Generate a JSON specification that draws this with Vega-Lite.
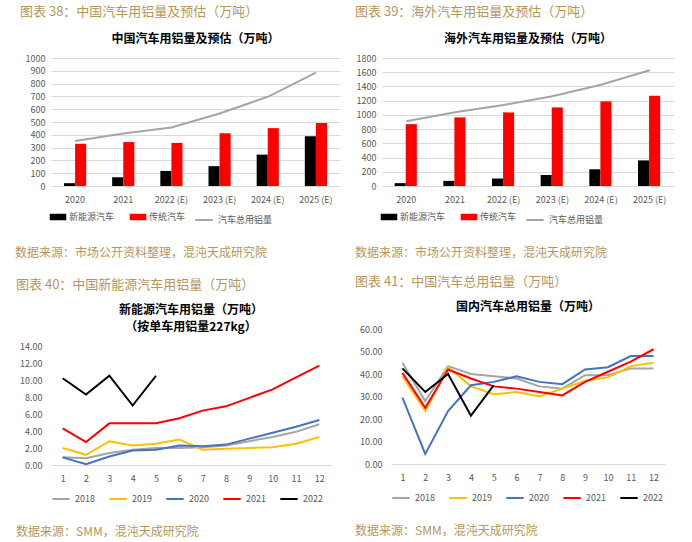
{
  "$schema": "https://vega.github.io/schema/vega-lite/v6.json",
  "padding": {"left": 15, "top": 6, "right": 5, "bottom": 2},
  "background": "white",
  "columns": 2,
  "align": {"row": "each", "column": "none"},
  "spacing": {"row": 17, "column": 15},
  "resolve": {"scale": {"color": "independent", "fill": "independent", "stroke": "independent"}, "legend": {"color": "independent", "fill": "independent", "stroke": "independent"}},
  "config": {
    "font": "Noto Sans CJK SC",
    "view": {"stroke": null},
    "axis": {"labelColor": "#595959", "labelFontSize": 9, "titleColor": "#595959"},
    "axisY": {"domain": false, "ticks": false, "gridColor": "#d9d9d9", "title": null, "labelPadding": 6, "labelOverlap": false},
    "axisX": {"domainColor": "#d9d9d9", "ticks": false, "grid": false, "title": null, "labelAngle": 0, "labelPadding": 9},
    "legend": {"orient": "bottom", "direction": "horizontal", "title": null, "labelColor": "#595959", "labelFontSize": 9, "offset": 6, "columnPadding": 14},
    "title": {"font": "Noto Sans CJK SC"},
    "concat": {"spacing": 18}
  },
  "datasets": {
    "cn": [
      {"year": "2020", "type": "新能源汽车", "value": 22},
      {"year": "2021", "type": "新能源汽车", "value": 68},
      {"year": "2022 (E)", "type": "新能源汽车", "value": 118},
      {"year": "2023 (E)", "type": "新能源汽车", "value": 155},
      {"year": "2024 (E)", "type": "新能源汽车", "value": 245},
      {"year": "2025 (E)", "type": "新能源汽车", "value": 388},
      {"year": "2020", "type": "传统汽车", "value": 330},
      {"year": "2021", "type": "传统汽车", "value": 343},
      {"year": "2022 (E)", "type": "传统汽车", "value": 337},
      {"year": "2023 (E)", "type": "传统汽车", "value": 412},
      {"year": "2024 (E)", "type": "传统汽车", "value": 452},
      {"year": "2025 (E)", "type": "传统汽车", "value": 492},
      {"year": "2020", "type": "汽车总用铝量", "value": 352},
      {"year": "2021", "type": "汽车总用铝量", "value": 411},
      {"year": "2022 (E)", "type": "汽车总用铝量", "value": 457},
      {"year": "2023 (E)", "type": "汽车总用铝量", "value": 567},
      {"year": "2024 (E)", "type": "汽车总用铝量", "value": 697},
      {"year": "2025 (E)", "type": "汽车总用铝量", "value": 886}
    ],
    "os": [
      {"year": "2020", "type": "新能源汽车", "value": 40},
      {"year": "2021", "type": "新能源汽车", "value": 72},
      {"year": "2022 (E)", "type": "新能源汽车", "value": 105},
      {"year": "2023 (E)", "type": "新能源汽车", "value": 155},
      {"year": "2024 (E)", "type": "新能源汽车", "value": 235},
      {"year": "2025 (E)", "type": "新能源汽车", "value": 360},
      {"year": "2020", "type": "传统汽车", "value": 870},
      {"year": "2021", "type": "传统汽车", "value": 965},
      {"year": "2022 (E)", "type": "传统汽车", "value": 1035},
      {"year": "2023 (E)", "type": "传统汽车", "value": 1105},
      {"year": "2024 (E)", "type": "传统汽车", "value": 1190},
      {"year": "2025 (E)", "type": "传统汽车", "value": 1270},
      {"year": "2020", "type": "汽车总用铝量", "value": 912},
      {"year": "2021", "type": "汽车总用铝量", "value": 1037},
      {"year": "2022 (E)", "type": "汽车总用铝量", "value": 1140},
      {"year": "2023 (E)", "type": "汽车总用铝量", "value": 1262},
      {"year": "2024 (E)", "type": "汽车总用铝量", "value": 1425},
      {"year": "2025 (E)", "type": "汽车总用铝量", "value": 1628}
    ],
    "nev": [
      {"year": "2018", "month": 1, "value": 0.9}, {"year": "2018", "month": 2, "value": 0.8}, {"year": "2018", "month": 3, "value": 1.4}, {"year": "2018", "month": 4, "value": 1.8}, {"year": "2018", "month": 5, "value": 2.0}, {"year": "2018", "month": 6, "value": 2.0}, {"year": "2018", "month": 7, "value": 2.1}, {"year": "2018", "month": 8, "value": 2.3}, {"year": "2018", "month": 9, "value": 2.8}, {"year": "2018", "month": 10, "value": 3.3}, {"year": "2018", "month": 11, "value": 3.9}, {"year": "2018", "month": 12, "value": 4.8},
      {"year": "2019", "month": 1, "value": 2.0}, {"year": "2019", "month": 2, "value": 1.2}, {"year": "2019", "month": 3, "value": 2.8}, {"year": "2019", "month": 4, "value": 2.3}, {"year": "2019", "month": 5, "value": 2.5}, {"year": "2019", "month": 6, "value": 3.0}, {"year": "2019", "month": 7, "value": 1.8}, {"year": "2019", "month": 8, "value": 1.9}, {"year": "2019", "month": 9, "value": 2.0}, {"year": "2019", "month": 10, "value": 2.1}, {"year": "2019", "month": 11, "value": 2.5}, {"year": "2019", "month": 12, "value": 3.3},
      {"year": "2020", "month": 1, "value": 0.9}, {"year": "2020", "month": 2, "value": 0.1}, {"year": "2020", "month": 3, "value": 1.0}, {"year": "2020", "month": 4, "value": 1.7}, {"year": "2020", "month": 5, "value": 1.8}, {"year": "2020", "month": 6, "value": 2.3}, {"year": "2020", "month": 7, "value": 2.2}, {"year": "2020", "month": 8, "value": 2.4}, {"year": "2020", "month": 9, "value": 3.1}, {"year": "2020", "month": 10, "value": 3.8}, {"year": "2020", "month": 11, "value": 4.5}, {"year": "2020", "month": 12, "value": 5.3},
      {"year": "2021", "month": 1, "value": 4.3}, {"year": "2021", "month": 2, "value": 2.7}, {"year": "2021", "month": 3, "value": 4.9}, {"year": "2021", "month": 4, "value": 4.9}, {"year": "2021", "month": 5, "value": 4.9}, {"year": "2021", "month": 6, "value": 5.5}, {"year": "2021", "month": 7, "value": 6.4}, {"year": "2021", "month": 8, "value": 6.9}, {"year": "2021", "month": 9, "value": 7.9}, {"year": "2021", "month": 10, "value": 8.9}, {"year": "2021", "month": 11, "value": 10.3}, {"year": "2021", "month": 12, "value": 11.7},
      {"year": "2022", "month": 1, "value": 10.2}, {"year": "2022", "month": 2, "value": 8.3}, {"year": "2022", "month": 3, "value": 10.5}, {"year": "2022", "month": 4, "value": 7.0}, {"year": "2022", "month": 5, "value": 10.5}
    ],
    "tot": [
      {"year": "2018", "month": 1, "value": 45}, {"year": "2018", "month": 2, "value": 28}, {"year": "2018", "month": 3, "value": 43.5}, {"year": "2018", "month": 4, "value": 40}, {"year": "2018", "month": 5, "value": 39}, {"year": "2018", "month": 6, "value": 38}, {"year": "2018", "month": 7, "value": 34.5}, {"year": "2018", "month": 8, "value": 33.5}, {"year": "2018", "month": 9, "value": 39.5}, {"year": "2018", "month": 10, "value": 39.5}, {"year": "2018", "month": 11, "value": 42.5}, {"year": "2018", "month": 12, "value": 42.5},
      {"year": "2019", "month": 1, "value": 39}, {"year": "2019", "month": 2, "value": 23.5}, {"year": "2019", "month": 3, "value": 43}, {"year": "2019", "month": 4, "value": 34.5}, {"year": "2019", "month": 5, "value": 31}, {"year": "2019", "month": 6, "value": 32}, {"year": "2019", "month": 7, "value": 30}, {"year": "2019", "month": 8, "value": 33.5}, {"year": "2019", "month": 9, "value": 37}, {"year": "2019", "month": 10, "value": 38.5}, {"year": "2019", "month": 11, "value": 43.5}, {"year": "2019", "month": 12, "value": 45},
      {"year": "2020", "month": 1, "value": 29.5}, {"year": "2020", "month": 2, "value": 4.5}, {"year": "2020", "month": 3, "value": 23.5}, {"year": "2020", "month": 4, "value": 35}, {"year": "2020", "month": 5, "value": 36.5}, {"year": "2020", "month": 6, "value": 39}, {"year": "2020", "month": 7, "value": 36.5}, {"year": "2020", "month": 8, "value": 35.5}, {"year": "2020", "month": 9, "value": 42}, {"year": "2020", "month": 10, "value": 43}, {"year": "2020", "month": 11, "value": 48}, {"year": "2020", "month": 12, "value": 48},
      {"year": "2021", "month": 1, "value": 40.5}, {"year": "2021", "month": 2, "value": 25}, {"year": "2021", "month": 3, "value": 42}, {"year": "2021", "month": 4, "value": 38}, {"year": "2021", "month": 5, "value": 34.5}, {"year": "2021", "month": 6, "value": 33.5}, {"year": "2021", "month": 7, "value": 32}, {"year": "2021", "month": 8, "value": 30.5}, {"year": "2021", "month": 9, "value": 36.5}, {"year": "2021", "month": 10, "value": 41}, {"year": "2021", "month": 11, "value": 45.5}, {"year": "2021", "month": 12, "value": 51},
      {"year": "2022", "month": 1, "value": 42.5}, {"year": "2022", "month": 2, "value": 32}, {"year": "2022", "month": 3, "value": 40}, {"year": "2022", "month": 4, "value": 21.5}, {"year": "2022", "month": 5, "value": 35}
    ]
  },
  "concat": [
    {
      "resolve": {"scale": {"color": "independent", "fill": "independent", "stroke": "independent"}, "legend": {"color": "independent", "fill": "independent", "stroke": "independent"}},
      "title": {"text": "图表 38：中国汽车用铝量及预估（万吨）", "anchor": "start", "frame": "bounds", "color": "#b8965a", "fontSize": 13, "fontWeight": "normal", "offset": 14, "dx": 5},
      "vconcat": [{
        "resolve": {"scale": {"color": "independent", "fill": "independent", "stroke": "independent"}, "legend": {"color": "independent", "fill": "independent", "stroke": "independent"}},
        "title": {"text": "数据来源：市场公开资料整理，混沌天成研究院", "orient": "bottom", "anchor": "start", "frame": "bounds", "color": "#b8965a", "fontSize": 12, "fontWeight": "normal", "offset": 23, "dx": -8},
        "vconcat": [{
          "width": 289, "height": 128,
          "title": {"text": "中国汽车用铝量及预估（万吨）", "fontSize": 12, "fontWeight": "bold", "color": "#000000", "offset": 8},
          "data": {"name": "cn"},
          "encoding": {
            "x": {"field": "year", "type": "nominal", "sort": null, "scale": {"paddingInner": 0.54, "paddingOuter": 0.27}},
            "y": {"field": "value", "type": "quantitative", "scale": {"domain": [0, 1000]}, "axis": {"values": [0, 100, 200, 300, 400, 500, 600, 700, 800, 900, 1000], "format": "d", "minExtent": 28}}
          },
          "layer": [
            {
              "transform": [{"filter": "datum.type !== '汽车总用铝量'"}],
              "mark": {"type": "bar"},
              "encoding": {
                "xOffset": {"field": "type", "type": "nominal", "sort": ["新能源汽车", "传统汽车"], "scale": {"paddingInner": 0}},
                "fill": {"field": "type", "type": "nominal", "scale": {"domain": ["新能源汽车", "传统汽车"], "range": ["#000000", "#ff0000"]}, "legend": {"symbolType": "M-1.4,-0.55L1.4,-0.55L1.4,0.55L-1.4,0.55Z", "symbolSize": 140}}
              }
            },
            {
              "transform": [{"filter": "datum.type === '汽车总用铝量'"}],
              "mark": {"type": "line", "strokeWidth": 2},
              "encoding": {
                "stroke": {"field": "type", "type": "nominal", "scale": {"domain": ["汽车总用铝量"], "range": ["#a5a5a5"]}, "legend": {"symbolType": "stroke", "symbolStrokeWidth": 2, "symbolSize": 300}}
              }
            }
          ]
        }]
      }]
    },
    {
      "resolve": {"scale": {"color": "independent", "fill": "independent", "stroke": "independent"}, "legend": {"color": "independent", "fill": "independent", "stroke": "independent"}},
      "title": {"text": "图表 39：海外汽车用铝量及预估（万吨）", "anchor": "start", "frame": "bounds", "color": "#b8965a", "fontSize": 13, "fontWeight": "normal", "offset": 14},
      "vconcat": [{
        "resolve": {"scale": {"color": "independent", "fill": "independent", "stroke": "independent"}, "legend": {"color": "independent", "fill": "independent", "stroke": "independent"}},
        "title": {"text": "数据来源：市场公开资料整理，混沌天成研究院", "orient": "bottom", "anchor": "start", "frame": "bounds", "color": "#b8965a", "fontSize": 12, "fontWeight": "normal", "offset": 23},
        "vconcat": [{
          "width": 292, "height": 128,
          "title": {"text": "海外汽车用铝量及预估（万吨）", "fontSize": 12, "fontWeight": "bold", "color": "#000000", "offset": 8},
          "data": {"name": "os"},
          "encoding": {
            "x": {"field": "year", "type": "nominal", "sort": null, "scale": {"paddingInner": 0.52, "paddingOuter": 0.26}},
            "y": {"field": "value", "type": "quantitative", "scale": {"domain": [0, 1800]}, "axis": {"values": [0, 200, 400, 600, 800, 1000, 1200, 1400, 1600, 1800], "format": "d", "minExtent": 27}}
          },
          "layer": [
            {
              "transform": [{"filter": "datum.type !== '汽车总用铝量'"}],
              "mark": {"type": "bar"},
              "encoding": {
                "xOffset": {"field": "type", "type": "nominal", "sort": ["新能源汽车", "传统汽车"], "scale": {"paddingInner": 0}},
                "fill": {"field": "type", "type": "nominal", "scale": {"domain": ["新能源汽车", "传统汽车"], "range": ["#000000", "#ff0000"]}, "legend": {"symbolType": "M-1.4,-0.55L1.4,-0.55L1.4,0.55L-1.4,0.55Z", "symbolSize": 140}}
              }
            },
            {
              "transform": [{"filter": "datum.type === '汽车总用铝量'"}],
              "mark": {"type": "line", "strokeWidth": 2},
              "encoding": {
                "stroke": {"field": "type", "type": "nominal", "scale": {"domain": ["汽车总用铝量"], "range": ["#a5a5a5"]}, "legend": {"symbolType": "stroke", "symbolStrokeWidth": 2, "symbolSize": 300}}
              }
            }
          ]
        }]
      }]
    },
    {
      "resolve": {"scale": {"color": "independent", "fill": "independent", "stroke": "independent"}, "legend": {"color": "independent", "fill": "independent", "stroke": "independent"}},
      "title": {"text": "图表 40：中国新能源汽车用铝量（万吨）", "anchor": "start", "frame": "bounds", "color": "#b8965a", "fontSize": 13, "fontWeight": "normal", "offset": 12},
      "vconcat": [{
        "resolve": {"scale": {"color": "independent", "fill": "independent", "stroke": "independent"}, "legend": {"color": "independent", "fill": "independent", "stroke": "independent"}},
        "title": {"text": "数据来源：SMM，混沌天成研究院", "orient": "bottom", "anchor": "start", "frame": "bounds", "color": "#b8965a", "fontSize": 12, "fontWeight": "normal", "offset": 23},
        "vconcat": [{
          "width": 280, "height": 136,
          "title": {"text": ["新能源汽车用铝量（万吨）", "（按单车用铝量227kg）"], "fontSize": 12, "fontWeight": "bold", "color": "#000000", "offset": 12, "dy": 17, "lineHeight": 17},
          "data": {"name": "nev"},
          "mark": {"type": "line", "strokeWidth": 2},
          "encoding": {
            "x": {"field": "month", "type": "ordinal", "scale": {"type": "point", "padding": 0.5}},
            "y": {"field": "value", "type": "quantitative", "scale": {"domain": [0, 16]}, "axis": {"values": [0, 2, 4, 6, 8, 10, 12, 14], "format": ".2f", "grid": false, "labelPadding": 9, "minExtent": 35}},
            "color": {"field": "year", "type": "nominal", "scale": {"domain": ["2018", "2019", "2020", "2021", "2022"], "range": ["#a5a5a5", "#ffc000", "#4472c4", "#ff0000", "#000000"]}, "legend": {"symbolType": "stroke", "symbolStrokeWidth": 2, "symbolSize": 300, "columnPadding": 10}}
          }
        }]
      }]
    },
    {
      "resolve": {"scale": {"color": "independent", "fill": "independent", "stroke": "independent"}, "legend": {"color": "independent", "fill": "independent", "stroke": "independent"}},
      "title": {"text": "图表 41：中国汽车总用铝量（万吨）", "anchor": "start", "frame": "bounds", "color": "#b8965a", "fontSize": 13, "fontWeight": "normal", "offset": 12},
      "vconcat": [{
        "resolve": {"scale": {"color": "independent", "fill": "independent", "stroke": "independent"}, "legend": {"color": "independent", "fill": "independent", "stroke": "independent"}},
        "title": {"text": "数据来源：SMM，混沌天成研究院", "orient": "bottom", "anchor": "start", "frame": "bounds", "color": "#b8965a", "fontSize": 12, "fontWeight": "normal", "offset": 23},
        "vconcat": [{
          "width": 274, "height": 135,
          "title": {"text": "国内汽车总用铝量（万吨）", "fontSize": 12, "fontWeight": "bold", "color": "#000000", "offset": 14, "dy": 3},
          "data": {"name": "tot"},
          "mark": {"type": "line", "strokeWidth": 2},
          "encoding": {
            "x": {"field": "month", "type": "ordinal", "scale": {"type": "point", "padding": 0.5}},
            "y": {"field": "value", "type": "quantitative", "scale": {"domain": [0, 60]}, "axis": {"values": [0, 10, 20, 30, 40, 50, 60], "format": ".2f", "grid": false, "labelPadding": 9, "minExtent": 36}},
            "color": {"field": "year", "type": "nominal", "scale": {"domain": ["2018", "2019", "2020", "2021", "2022"], "range": ["#a5a5a5", "#ffc000", "#4472c4", "#ff0000", "#000000"]}, "legend": {"symbolType": "stroke", "symbolStrokeWidth": 2, "symbolSize": 300, "columnPadding": 10}}
          }
        }]
      }]
    }
  ]
}
